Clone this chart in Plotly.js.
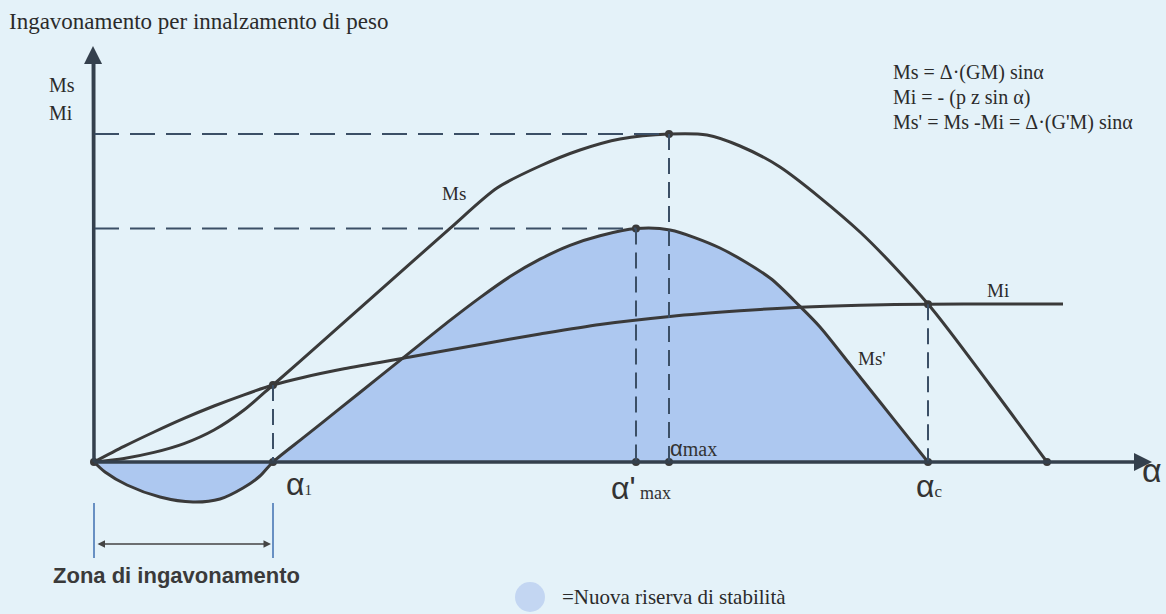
<!DOCTYPE html>
<html><head><meta charset="utf-8">
<script src="https://cdn.plot.ly/plotly-3.0.1.min.js"></script>
<style>html,body{margin:0;padding:0;background:#e4f2f9;}</style>
</head><body><div id="chart" style="width:1166px;height:614px;"></div>
<script>
// ---- data (α in degrees-like units, moments in arbitrary units) ----
const msX = [0, 3, 6, 9, 12, 15, 17.9, 22.6, 28.6, 35.6, 40.3, 44.6, 48.6, 52.6, 57.5, 61.3, 64.6, 68.6, 76.6, 83.4, 89.6, 95.3];
const msY = [0, 0.9, 2.4, 4.6, 8.0, 13.0, 19.25, 29.6, 42.9, 58.4, 68.5, 74, 78, 80.75, 82, 81.75, 79, 73.75, 57.5, 39.5, 19.25, 0];

const miX = [0, 3, 6, 9, 12, 15, 17.9, 21, 25, 31.6, 38.6, 44.6, 50.6, 57.6, 64.6, 70.6, 76.6, 83.4, 90.6, 96.9];
const miY = [0, 3.9, 7.5, 10.9, 14.0, 16.8, 19.25, 21.2, 23.3, 26.25, 29.4, 32.0, 34.4, 36.4, 37.8, 38.7, 39.2, 39.45, 39.5, 39.5];

const msPX = [0, 1.1, 3.3, 6.6, 9.9, 12.6, 14.9, 16.6, 17.9, 21, 24.6, 28.6, 31.6, 35.6, 38.6, 41.6, 44.6, 47.6, 50.6, 54.2, 57.6, 62.6, 67.6, 70.6, 72.6, 75.6, 78.6, 81.6, 83.4];
const msPY = [0, -2.5, -5.75, -8.75, -10, -9.25, -6.5, -3.5, 0, 6.2, 13.4, 21.4, 27.4, 35.4, 41.1, 46.35, 50.7, 54.15, 56.55, 58.35, 58.0, 53.5, 46.0, 38.9, 33.75, 24.4, 15.0, 5.6, 0];

// key angles
const alpha1 = 17.9, alphaMaxP = 54.2, alphaMax = 57.5, alphaC = 83.4, msZero = 95.3;

// ---- pixel helpers for layout positions ----
const X0 = 94, KX = 10, Y0 = 462, KY = 4, W = 1166, H = 614;
const dx = p => (p - X0) / KX;
const dy = p => (Y0 - p) / KY;

const ink = '#3a3a3a';
const dashC = '#3b4f66';
const interp = (xs, ys, x) => { for (let i = 1; i < xs.length; i++) if (x <= xs[i]) { const t = (x - xs[i-1]) / (xs[i] - xs[i-1]); return ys[i-1] + t * (ys[i] - ys[i-1]); } return ys[ys.length-1]; };
const msPeak = Math.max(...msY);
const msPPeak = Math.max(...msPY);
const yA1 = interp(miX, miY, alpha1);
const yAC = interp(miX, miY, alphaC);

const traces = [
  {x: msPX, y: msPY, mode: 'lines', fill: 'tozeroy', fillcolor: '#adc8f0', line: {color: ink, width: 3, shape: 'spline', smoothing: 0.8}, hoverinfo: 'skip'},
  {x: msX, y: msY, mode: 'lines', line: {color: ink, width: 3, shape: 'spline', smoothing: 0.8}, hoverinfo: 'skip'},
  {x: miX, y: miY, mode: 'lines', line: {color: ink, width: 3, shape: 'spline', smoothing: 0.8}, hoverinfo: 'skip'},
  {x: [0, alpha1, alpha1, alphaMaxP, alphaMax, alphaMaxP, alphaMax, alphaC, alphaC, msZero],
   y: [0, 0, yA1, 0, 0, msPPeak, msPeak, 0, yAC, 0],
   mode: 'markers', marker: {color: ink, size: 8}, hoverinfo: 'skip'}
];

const hDash = (x0, y0, x1, y1) => ({type: 'line', xref: 'x', yref: 'y', x0, y0, x1, y1, line: {color: dashC, width: 2, dash: '25px,11px'}});
const vDash = (x0, y0, x1, y1) => ({type: 'line', xref: 'x', yref: 'y', x0, y0, x1, y1, line: {color: dashC, width: 2, dash: '16px,8px'}});
const shapes = [
  hDash(0, msPeak, alphaMax, msPeak),
  vDash(alphaMax, msPeak, alphaMax, 0),
  hDash(0, msPPeak, alphaMaxP, msPPeak),
  vDash(alphaMaxP, msPPeak, alphaMaxP, 0),
  vDash(alphaC, yAC, alphaC, 0),
  vDash(alpha1, yA1, alpha1, 0),
  {type: 'line', x0: 0, x1: 0, y0: dy(503), y1: dy(558), line: {color: '#3f6fb0', width: 1.5}},
  {type: 'line', x0: alpha1, x1: alpha1, y0: dy(503), y1: dy(558), line: {color: '#3f6fb0', width: 1.5}},
  {type: 'circle', x0: dx(515), x1: dx(545), y0: dy(582), y1: dy(612), fillcolor: '#c3d6f2', line: {width: 0}}
];

const txt = (text, x, y, size, opts = {}) => Object.assign({
  text, x, y, xref: 'x', yref: 'y', showarrow: false,
  font: {family: 'Liberation Serif', size, color: '#2b2b2b'}, xanchor: 'left', yanchor: 'middle'
}, opts);

const sans = 'Liberation Sans';
const annotations = [
  // axes arrows
  {x: dx(1152), y: 0, ax: 0, ay: 0, axref: 'x', ayref: 'y', xref: 'x', yref: 'y', text: '', showarrow: true, arrowhead: 2, arrowsize: 1.2, arrowwidth: 3, arrowcolor: '#34404d'},
  {x: dx(93), y: dy(46), ax: 0, ay: 0, axref: 'x', ayref: 'y', xref: 'x', yref: 'y', text: '', showarrow: true, arrowhead: 2, arrowsize: 1.2, arrowwidth: 3, arrowcolor: '#34404d'},
  // zone double arrow
  {x: alpha1 - 0.2, y: dy(544), ax: 0.2, ay: dy(544), axref: 'x', ayref: 'y', xref: 'x', yref: 'y', text: '', showarrow: true, arrowhead: 2, arrowside: 'end+start', arrowsize: 1, arrowwidth: 1.5, arrowcolor: '#444'},
  // title and labels
  txt('Ingavonamento per innalzamento di peso', dx(7), dy(21), 23),
  txt('Ms', dx(47), dy(85), 20),
  txt('Mi', dx(47), dy(113), 20),
  txt('Ms = Δ·(GM) sinα', dx(891), dy(72), 20),
  txt('Mi = - (p z sin α)', dx(891), dy(97), 20),
  txt("Ms' = Ms -Mi = Δ·(G'M) sinα", dx(891), dy(122), 20),
  txt('Ms', dx(440), dy(193), 19),
  txt("Ms'", dx(856), dy(358), 19),
  txt('Mi', dx(985), dy(290), 19),
  txt("α<span style='font-size:15px;font-family:Liberation Serif'>1</span>", dx(284), dy(484), 32, {font: {family: sans, size: 32, color: '#333'}}),
  txt("α'<span style='font-size:18px;font-family:Liberation Serif'> max</span>", dx(609), dy(488), 32, {font: {family: sans, size: 32, color: '#333'}}),
  txt("α<span style='font-size:20px;font-family:Liberation Serif'>max</span>", dx(668), dy(448), 22, {font: {family: sans, size: 22, color: '#333'}}),
  txt("α<span style='font-size:17px;font-family:Liberation Serif'>c</span>", dx(914), dy(486), 32, {font: {family: sans, size: 32, color: '#333'}}),
  txt('α', dx(1140), dy(470), 34, {font: {family: sans, size: 34, color: '#333'}}),
  txt('Zona di ingavonamento', dx(51), dy(575), 22, {font: {family: sans, size: 22, color: '#3a3a3a', weight: 'bold'}}),
  txt('=Nuova riserva di stabilità', dx(560), dy(597), 21)
];

const layout = {
  width: W, height: H,
  margin: {l: 0, r: 0, t: 0, b: 0},
  paper_bgcolor: '#e4f2f9', plot_bgcolor: '#e4f2f9',
  showlegend: false,
  xaxis: {range: [dx(0), dx(W)], visible: false, fixedrange: true},
  yaxis: {range: [dy(H), dy(0)], visible: false, fixedrange: true},
  shapes, annotations
};
layout.shapes.unshift(
  {type: 'line', x0: 0, x1: dx(1140), y0: 0, y1: 0, line: {color: '#34404d', width: 3}},
  {type: 'line', x0: 0, x1: 0, y0: 0, y1: dy(60), line: {color: '#34404d', width: 3}}
);
Plotly.newPlot('chart', traces, layout, {displayModeBar: false, staticPlot: true});
</script></body></html>
